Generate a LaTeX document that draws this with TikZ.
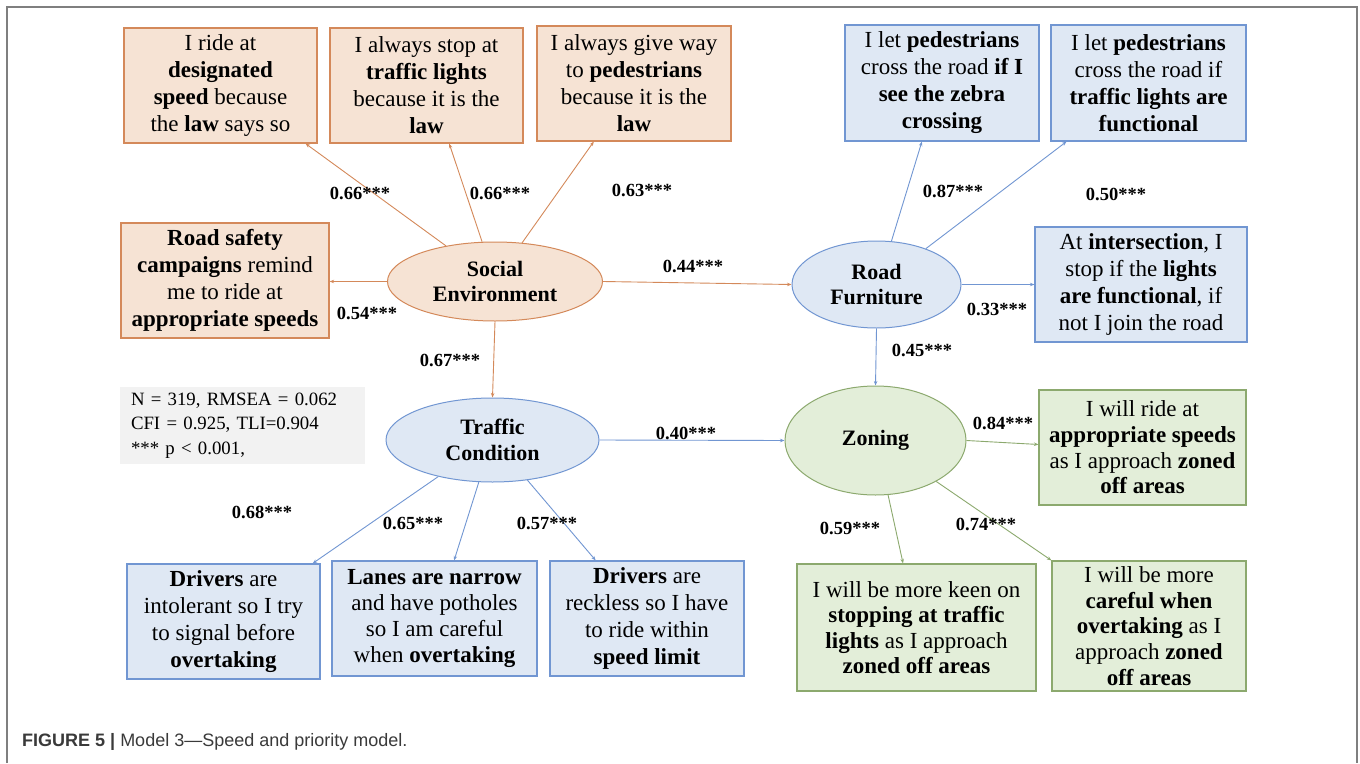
\documentclass[tikz,border=0pt]{standalone}
\usepackage{fontspec}
\setmainfont{Liberation Serif}
\newfontfamily\capfont{Liberation Sans}
\usetikzlibrary{shapes.geometric,arrows.meta,calc}
\definecolor{ofill}{HTML}{F6E3D4}
\definecolor{oline}{HTML}{D4895A}
\definecolor{bfill}{HTML}{DFE8F4}
\definecolor{bline}{HTML}{7196D2}
\definecolor{gfill}{HTML}{E3EED9}
\definecolor{gline}{HTML}{8CA96E}
\definecolor{statfill}{HTML}{F2F2F2}
\definecolor{framecol}{HTML}{7F7F7F}
\definecolor{capcol}{HTML}{3A3A3A}
\begin{document}
\begin{tikzpicture}[x=1pt,y=-1pt,
  box/.style={draw, line width=1.2pt, rectangle, align=center, inner sep=0pt,
    font=\fontsize{23}{27}\selectfont},
  obox/.style={box, fill=ofill, draw=oline},
  bbox/.style={box, fill=bfill, draw=bline},
  gbox/.style={box, fill=gfill, draw=gline},
  lat/.style={ellipse, draw, line width=1pt, inner sep=0pt, align=center,
    font=\fontsize{22}{25.5}\selectfont\bfseries},
  coef/.style={font=\fontsize{18.5}{20}\selectfont\bfseries, inner sep=0pt},
  arr/.style={line width=0.9pt, -{Stealth[length=4.5pt,width=3.5pt]}},
]
\useasboundingbox (0,0) rectangle (1360,763);
\fill[white] (0,0) rectangle (1360,763);
\draw[framecol, line width=1.5pt] (7,763) -- (7,7) -- (1357,7) -- (1357,763);

% indicator boxes
\node[obox, minimum width=193, minimum height=115] (b1) at (220.5,85.5)
  {I ride at\\\textbf{designated}\\\textbf{speed} because\\the \textbf{law} says so};
\node[obox, minimum width=193, minimum height=115] (b2) at (426.5,85.5)
  {I always stop at\\\textbf{traffic lights}\\because it is the\\\textbf{law}};
\node[obox, minimum width=194, minimum height=115] (b3) at (634,83.5)
  {I always give way\\to \textbf{pedestrians}\\because it is the\\\textbf{law}};
\node[obox, minimum width=208, minimum height=115] (b4) at (225,280.5)
  {\textbf{Road safety}\\\textbf{campaigns} remind\\me to ride at\\\textbf{appropriate speeds}};
\node[bbox, minimum width=194, minimum height=116] (b5) at (942,83)
  {I let \textbf{pedestrians}\\cross the road \textbf{if I}\\\textbf{see the zebra}\\\textbf{crossing}};
\node[bbox, minimum width=195, minimum height=116] (b6) at (1148.5,83)
  {I let \textbf{pedestrians}\\cross the road if\\\textbf{traffic lights are}\\\textbf{functional}};
\node[bbox, minimum width=212, minimum height=115] (b7) at (1141,284.5)
  {At \textbf{intersection}, I\\stop if the \textbf{lights}\\\textbf{are functional}, if\\not I join the road};
\node[gbox, minimum width=207, minimum height=115, font=\fontsize{23}{25.7}\selectfont] (b8) at (1142.5,447.5)
  {I will ride at\\\textbf{appropriate speeds}\\as I approach \textbf{zoned}\\\textbf{off areas}};
\node[gbox, minimum width=239, minimum height=127, font=\fontsize{23}{25.5}\selectfont] (b9) at (916.5,627.5)
  {I will be more keen on\\\textbf{stopping at traffic}\\\textbf{lights} as I approach\\\textbf{zoned off areas}};
\node[gbox, minimum width=194, minimum height=130, font=\fontsize{23}{25.8}\selectfont] (b10) at (1149,626)
  {I will be more\\\textbf{careful when}\\\textbf{overtaking} as I\\approach \textbf{zoned}\\\textbf{off areas}};
\node[bbox, minimum width=193, minimum height=115] (b11) at (223.5,621.5)
  {\textbf{Drivers} are\\intolerant so I try\\to signal before\\\textbf{overtaking}};
\node[bbox, minimum width=205, minimum height=115, font=\fontsize{23}{26}\selectfont] (b12) at (434.5,618.5)
  {\textbf{Lanes are narrow}\\and have potholes\\so I am careful\\when \textbf{overtaking}};
\node[bbox, minimum width=194, minimum height=115] (b13) at (647,618.5)
  {\textbf{Drivers} are\\reckless so I have\\to ride within\\\textbf{speed limit}};

% latent variables
\node[lat, fill=ofill, draw=oline, minimum width=215, minimum height=79] (SE) at (495,281.5)
  {Social\\Environment};
\node[lat, fill=bfill, draw=bline, minimum width=169, minimum height=87] (RF) at (876.5,284.5)
  {Road\\Furniture};
\node[lat, fill=bfill, draw=bline, minimum width=213, minimum height=84] (TC) at (492.5,440)
  {Traffic\\Condition};
\node[lat, fill=gfill, draw=gline, minimum width=181, minimum height=109] (Z) at (875.5,440.5)
  {Zoning};

% stats box
\node[fill=statfill, minimum width=245, minimum height=77, inner xsep=11pt, inner ysep=0pt,
  text width=223pt, align=left, font=\fontsize{18.8}{24.5}\selectfont] (stats) at (242.5,425.5)
  {N = 319, RMSEA = 0.062\\CFI = 0.925, TLI=0.904\\{}*** p < 0.001,};

% connectors
\draw[arr, draw=oline] (SE.144) -- ($(b1.south west)!0.938!(b1.south east)$);
\draw[arr, draw=oline] (SE.108) -- ($(b2.south west)!0.617!(b2.south east)$);
\draw[arr, draw=oline] (SE.55) -- ($(b3.south west)!0.294!(b3.south east)$);
\draw[arr, draw=oline] (SE.west) -- (SE.west -| b4.east);
\draw[arr, draw=oline] (SE.east) -- (RF.west);
\draw[arr, draw=oline] (SE.south) -- (TC.north);

\draw[arr, draw=bline] (RF.71) -- ($(b5.south west)!0.397!(b5.south east)$);
\draw[arr, draw=bline] (RF.36) -- ($(b6.south west)!0.082!(b6.south east)$);
\draw[arr, draw=bline] (RF.east) -- (b7.west);
\draw[arr, draw=bline] (RF.south) -- (Z.north);
\draw[arr, draw=bline] (TC.east) -- (Z.west);
\draw[arr, draw=bline] (TC.214) -- ($(b11.north west)!0.959!(b11.north east)$);
\draw[arr, draw=bline] (TC.252) -- ($(b12.north west)!0.595!(b12.north east)$);
\draw[arr, draw=bline] (TC.-49) -- ($(b13.north west)!0.237!(b13.north east)$);

\draw[arr, draw=gline] (Z.east) -- ($(b8.north west)!0.474!(b8.south west)$);
\draw[arr, draw=gline] (Z.-77) -- ($(b9.north west)!0.444!(b9.north east)$);
\draw[arr, draw=gline] (Z.-34) -- (b10.north west);

% coefficients
\node[coef] (l1) at (360,193) {0.66***};
\node[coef] (l2) at (500,193) {0.66***};
\node[coef] (l3) at (642,190) {0.63***};
\node[coef] (l4) at (367,313) {0.54***};
\node[coef] (l5) at (693,266) {0.44***};
\node[coef] (l6) at (450,360) {0.67***};
\node[coef] (l7) at (953,191) {0.87***};
\node[coef] (l8) at (1116,194) {0.50***};
\node[coef] (l9) at (997,309) {0.33***};
\node[coef] (l10) at (922,350) {0.45***};
\node[coef] (l11) at (686,433) {0.40***};
\node[coef] (l12) at (1003,423) {0.84***};
\node[coef] (l13) at (850,528) {0.59***};
\node[coef] (l14) at (986,524) {0.74***};
\node[coef] (l15) at (262,512) {0.68***};
\node[coef] (l16) at (413,523) {0.65***};
\node[coef] (l17) at (547,523) {0.57***};

% caption
\node[anchor=base west, inner sep=0pt, text=capcol, font=\capfont\fontsize{18}{20}\selectfont] (cap) at (22,746)
  {\textbf{FIGURE 5 |} Model 3—Speed and priority model.};
\end{tikzpicture}
\end{document}
